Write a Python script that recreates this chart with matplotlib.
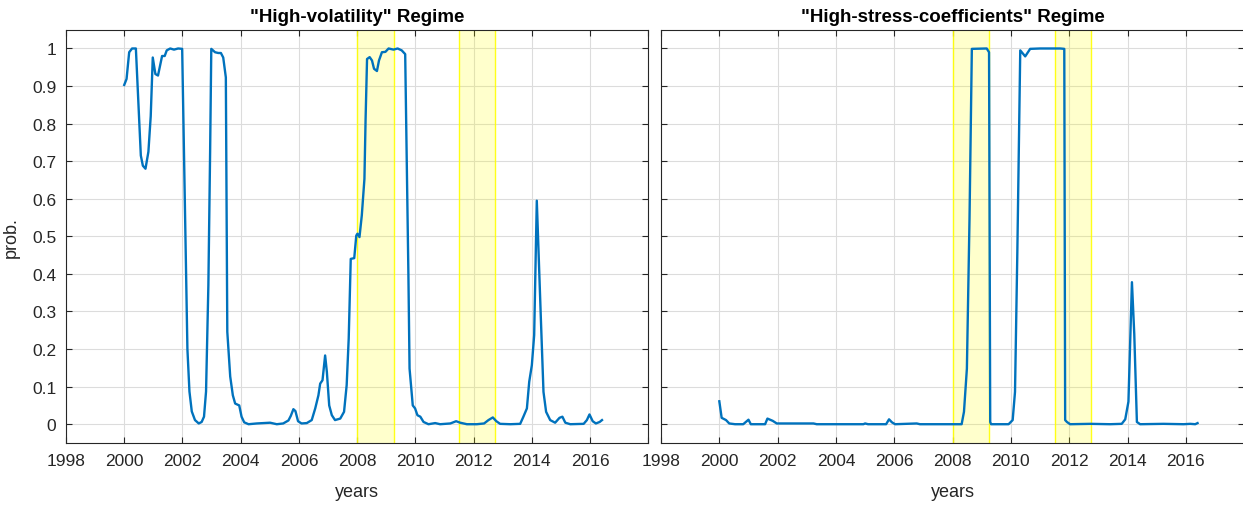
import matplotlib
matplotlib.use("Agg")
import matplotlib.pyplot as plt
import numpy as np

plt.rcParams['font.family'] = ['Liberation Sans', 'DejaVu Sans']

# ---------------- data ----------------
vol_years = [2000.0, 2000.08, 2000.17, 2000.27, 2000.4, 2000.57, 2000.64, 2000.73, 2000.83, 2000.91,
             2000.98, 2001.07, 2001.16, 2001.3, 2001.39, 2001.46, 2001.58, 2001.71, 2001.85, 2001.99,
             2002.09, 2002.17, 2002.24, 2002.32, 2002.43, 2002.56, 2002.66, 2002.74, 2002.81, 2002.89,
             2002.95, 2002.99, 2003.12, 2003.23, 2003.32, 2003.4, 2003.49, 2003.54, 2003.64, 2003.73,
             2003.81, 2003.95, 2004.03, 2004.12, 2004.27, 2004.55, 2005.01, 2005.24, 2005.46, 2005.64,
             2005.72, 2005.81, 2005.88, 2005.97, 2006.09, 2006.27, 2006.44, 2006.56, 2006.67, 2006.73,
             2006.81, 2006.9, 2006.96, 2007.04, 2007.13, 2007.24, 2007.42, 2007.55, 2007.64, 2007.71,
             2007.78, 2007.9, 2007.97, 2008.01, 2008.08, 2008.16, 2008.25, 2008.29, 2008.34, 2008.43,
             2008.51, 2008.58, 2008.68, 2008.75, 2008.85, 2008.97, 2009.08, 2009.25, 2009.39, 2009.53,
             2009.65, 2009.7, 2009.76, 2009.8, 2009.91, 2009.99, 2010.07, 2010.17, 2010.28, 2010.45,
             2010.68, 2010.85, 2011.2, 2011.4, 2011.54, 2011.77, 2012.11, 2012.36, 2012.51, 2012.66,
             2012.78, 2012.91, 2013.26, 2013.6, 2013.71, 2013.83, 2013.91, 2014.0, 2014.08, 2014.17,
             2014.23, 2014.31, 2014.4, 2014.49, 2014.63, 2014.8, 2014.95, 2015.05, 2015.15, 2015.32,
             2015.78, 2015.89, 2015.98, 2016.09, 2016.2, 2016.33, 2016.41]
vol_prob = [0.903, 0.919, 0.99, 1.0, 1.0, 0.715, 0.688, 0.68, 0.725, 0.82,
            0.976, 0.932, 0.928, 0.98, 0.98, 0.995, 1.0, 0.997, 1.0, 0.999,
            0.547, 0.2, 0.087, 0.034, 0.011, 0.002, 0.006, 0.02, 0.087, 0.37,
            0.725, 0.999, 0.99, 0.988, 0.988, 0.976, 0.923, 0.246, 0.127, 0.077,
            0.055, 0.05, 0.02, 0.005, 0.0, 0.002, 0.004, 0.0, 0.002, 0.01,
            0.022, 0.04, 0.035, 0.008, 0.002, 0.003, 0.011, 0.042, 0.077, 0.108,
            0.117, 0.183, 0.139, 0.05, 0.024, 0.011, 0.015, 0.033, 0.104, 0.228,
            0.44, 0.442, 0.502, 0.507, 0.498, 0.556, 0.653, 0.813, 0.972, 0.977,
            0.968, 0.946, 0.94, 0.968, 0.99, 0.991, 1.0, 0.997, 1.0, 0.995,
            0.985, 0.724, 0.4, 0.148, 0.05, 0.042, 0.024, 0.02, 0.006, 0.0,
            0.003, 0.0, 0.002, 0.008, 0.004, 0.0, 0.0, 0.002, 0.011, 0.018,
            0.008, 0.001, 0.0, 0.001, 0.02, 0.042, 0.113, 0.157, 0.237, 0.595,
            0.458, 0.281, 0.086, 0.033, 0.011, 0.004, 0.017, 0.02, 0.004, 0.0,
            0.001, 0.011, 0.026, 0.008, 0.002, 0.006, 0.011]

stress_years = [2000.0, 2000.08, 2000.23, 2000.34, 2000.54, 2000.82, 2001.0, 2001.08, 2001.57, 2001.65,
                2001.83, 2001.97, 2003.23, 2003.34, 2004.94, 2005.0, 2005.1, 2005.72, 2005.82, 2005.92,
                2006.03, 2006.77, 2006.88, 2008.31, 2008.39, 2008.49, 2008.58, 2008.66, 2009.17, 2009.25,
                2009.29, 2009.32, 2009.92, 2010.06, 2010.14, 2010.22, 2010.32, 2010.49, 2010.66, 2011.0,
                2011.34, 2011.69, 2011.83, 2011.86, 2011.92, 2012.03, 2012.72, 2013.4, 2013.8, 2013.92,
                2014.03, 2014.15, 2014.23, 2014.32, 2014.43, 2015.23, 2015.92, 2016.15, 2016.32, 2016.4]
stress_prob = [0.061, 0.017, 0.011, 0.002, 0.0, 0.0, 0.012, 0.0, 0.0, 0.015,
               0.009, 0.002, 0.002, 0.0, 0.0, 0.002, 0.0, 0.0, 0.013, 0.005,
               0.0, 0.002, 0.0, 0.0, 0.033, 0.148, 0.547, 0.999, 1.0, 0.99,
               0.006, 0.0, 0.0, 0.011, 0.086, 0.458, 0.995, 0.979, 0.999, 1.0,
               1.0, 1.0, 0.999, 0.011, 0.006, 0.0, 0.001, 0.0, 0.001, 0.013,
               0.06, 0.378, 0.24, 0.006, 0.0, 0.001, 0.0, 0.001, 0.0, 0.003]

shade_start = [2008.0, 2011.5]
shade_end = [2009.25, 2012.75]

titles = ['"High-volatility" Regime', '"High-stress-coefficients" Regime']
xtick_vals = list(range(1998, 2019, 2))
xtick_labels = [str(v) for v in range(1998, 2017, 2)] + ['']
ytick_vals = [0, 0.1, 0.2, 0.3, 0.4, 0.5, 0.6, 0.7, 0.8, 0.9, 1]
ytick_labels = ['0', '0.1', '0.2', '0.3', '0.4', '0.5', '0.6', '0.7', '0.8', '0.9', '1']

# ---------------- figure ----------------
W, H = 1243, 506
fig = plt.figure(figsize=(W / 100, H / 100), dpi=100)
txt = '#262626'
line_col = '#0072BD'

ax1 = fig.add_axes([66 / W, (H - 444) / H, (648.3 - 66) / W, (444 - 30.7) / H])
ax2 = fig.add_axes([661 / W, (H - 444) / H, (1244.2 - 661) / W, (444 - 30.7) / H])

for i, (ax, xs, ys) in enumerate([(ax1, vol_years, vol_prob), (ax2, stress_years, stress_prob)]):
    for s, e in zip(shade_start, shade_end):
        ax.axvspan(s, e, facecolor=(1, 1, 0), alpha=0.2, edgecolor='none', zorder=1)
        ax.axvline(s, color=(1, 1, 0), lw=1.0, alpha=0.9, zorder=1.5)
        ax.axvline(e, color=(1, 1, 0), lw=1.0, alpha=0.9, zorder=1.5)
    ax.plot(xs, ys, color=line_col, lw=1.7, zorder=3, solid_joinstyle='round')
    ax.set_xlim(1998, 2018)
    ax.set_ylim(-0.05, 1.05)
    ax.set_xticks(xtick_vals)
    ax.set_xticklabels(xtick_labels)
    ax.set_yticks(ytick_vals)
    if i == 0:
        ax.set_yticklabels(ytick_labels)
        ax.set_ylabel('prob.', fontsize=13, color=txt, labelpad=9)
    else:
        ax.set_yticklabels([])
    ax.grid(True, color='#dcdcdc', lw=0.8, zorder=0)
    ax.set_axisbelow(True)
    ax.tick_params(direction='in', length=4.2, width=0.8, colors=txt, labelsize=12.5,
                   top=True, right=True, pad=7)
    for sp in ax.spines.values():
        sp.set_color(txt)
        sp.set_linewidth(0.8)
    ax.set_xlabel('years', fontsize=13, color=txt, labelpad=11)
    ax.set_title(titles[i], fontsize=13.5, fontweight='bold', color='black', pad=6)

fig.savefig('out.png', dpi=100)
